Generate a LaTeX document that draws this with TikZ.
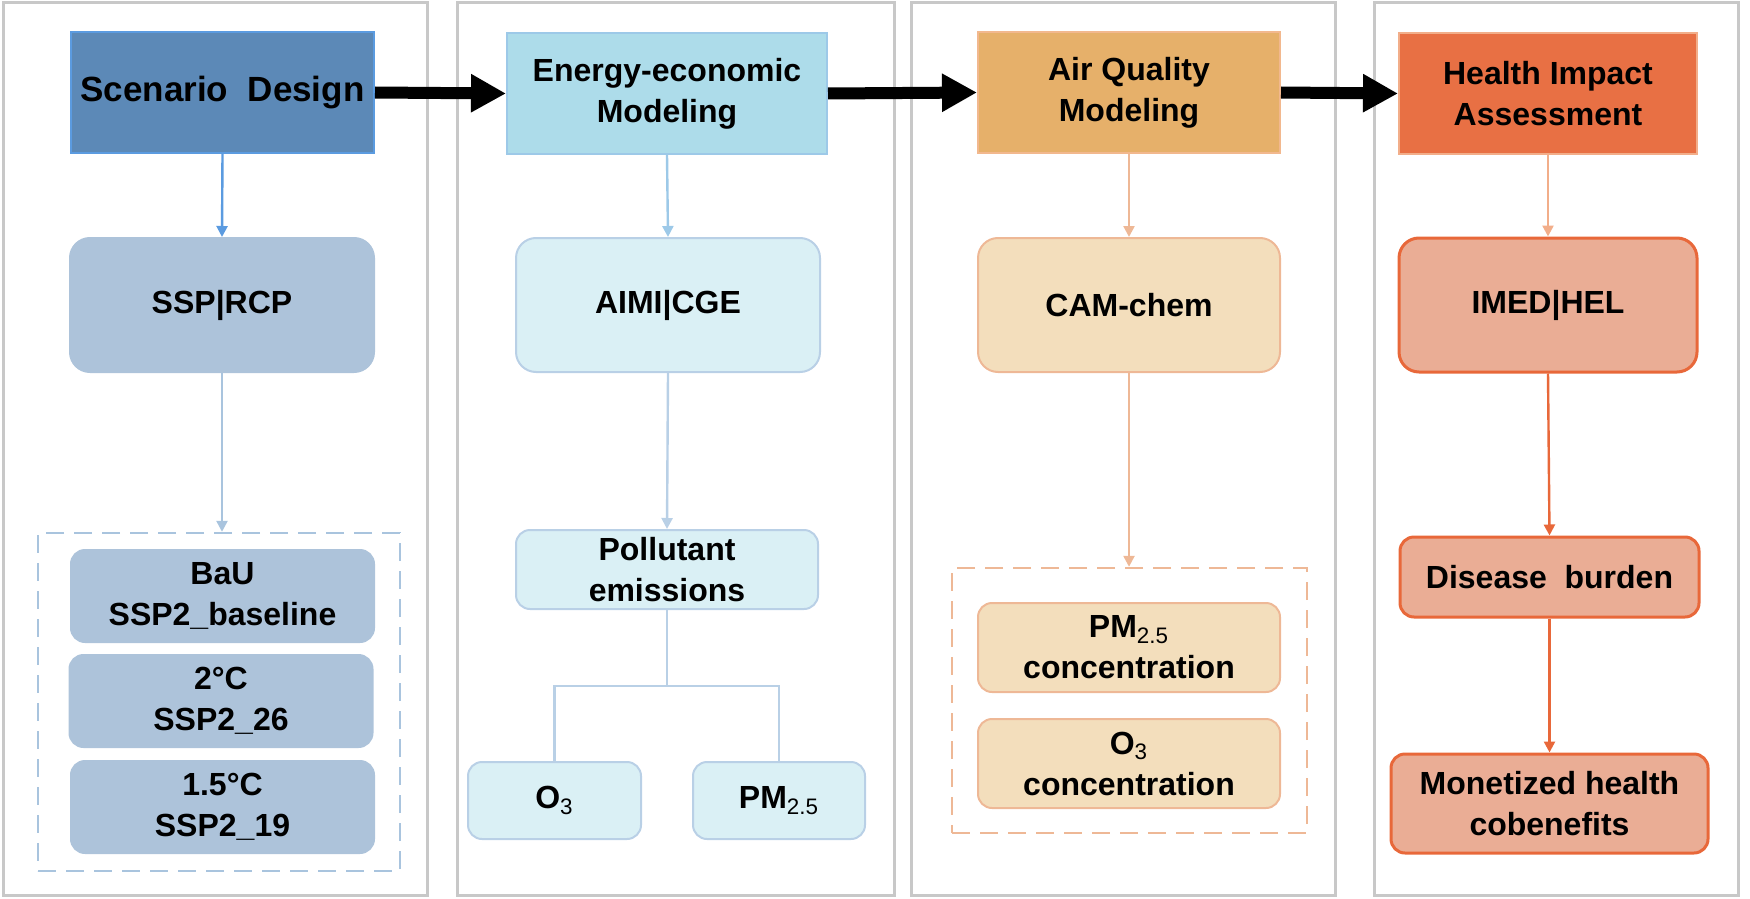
\documentclass[tikz,border=0pt]{standalone}
\usepackage{fontspec}
\setmainfont{Liberation Sans}
\usetikzlibrary{arrows.meta}
\definecolor{panelgray}{HTML}{C8C8C8}
\definecolor{sdfill}{HTML}{5C89B7}
\definecolor{sdline}{HTML}{5B9BE0}
\definecolor{sspfill}{HTML}{ADC3DA}
\definecolor{sspline}{HTML}{A9C4DE}
\definecolor{eefill}{HTML}{ADDCEA}
\definecolor{eeline}{HTML}{9DC9E8}
\definecolor{aimfill}{HTML}{DAF0F5}
\definecolor{aimline}{HTML}{B9D0E6}
\definecolor{aqfill}{HTML}{E6B06A}
\definecolor{aqline}{HTML}{F2B88E}
\definecolor{camfill}{HTML}{F3DEBC}
\definecolor{camline}{HTML}{EEB896}
\definecolor{hifill}{HTML}{E87044}
\definecolor{hiline}{HTML}{F2AE8A}
\definecolor{imfill}{HTML}{EAAD95}
\definecolor{imline}{HTML}{E8683A}
\tikzset{
  panel/.style={draw=panelgray,line width=1.5pt},
  txt/.style={font=\bfseries\fontsize{16}{20.5}\selectfont,align=center,text=black,inner sep=0pt},
  topbox/.style={txt,draw,line width=1pt,minimum height=60.5pt},
  rbox/.style={txt,draw,line width=1pt,rounded corners=10pt},
  sbox/.style={txt,draw,line width=1pt,rounded corners=7pt},
  dashbox/.style={draw,line width=1.2pt,dash pattern=on 9pt off 5pt,inner sep=0pt},
  conn/.style={line width=1.2pt,-{Triangle[width=5.5pt,length=5.5pt]}},
  bigarrow/.style={line width=6pt,black,-{Triangle[width=18pt,length=17.5pt]}}
}
\newcommand{\subx}[1]{\textsubscript{\mdseries #1}}
\begin{document}
\begin{tikzpicture}[x=0.5pt,y=-0.5pt]
\useasboundingbox (0,0) rectangle (1750,899);
% panels
\draw[panel] (3,3) rectangle (427,895);
\draw[panel] (457,3) rectangle (894,895);
\draw[panel] (911,3) rectangle (1335,895);
\draw[panel] (1374,3) rectangle (1738,895);

% top boxes
\node[topbox,fill=sdfill,draw=sdline,minimum width=151.5pt,font=\bfseries\fontsize{17.5}{21}\selectfont] (sd) at (222.5,92.5) {Scenario\ \ Design};
\node[topbox,fill=eefill,draw=eeline,minimum width=160pt] (ee) at (667,93.5) {Energy-economic\\Modeling};
\node[topbox,fill=aqfill,draw=aqline,minimum width=151pt] (aq) at (1129,92.5) {Air Quality\\Modeling};
\node[topbox,fill=hifill,draw=hiline,minimum width=149pt] (hi) at (1548,93.5) {Health Impact\\Assessment};

\draw[bigarrow] (sd.east) -- (ee.west);
\draw[bigarrow] (ee.east) -- (aq.west);
\draw[bigarrow] (aq.east) -- (hi.west);

% second row
\node[rbox,fill=sspfill,draw=sspfill,minimum width=152pt,minimum height=67pt] (ssp) at (222,305) {SSP|RCP};
\node[rbox,fill=aimfill,draw=aimline,minimum width=152pt,minimum height=67pt] (aim) at (668,305) {AIMI|CGE};
\node[rbox,fill=camfill,draw=camline,minimum width=151pt,minimum height=67pt] (cam) at (1129,305) {CAM-chem};
\node[rbox,fill=imfill,draw=imline,line width=1.5pt,minimum width=149pt,minimum height=67pt] (imed) at (1548,305) {IMED|HEL};

\draw[conn,draw=sdline] (sd.south) -- (ssp.north);
\draw[conn,draw=eeline] (ee.south) -- (aim.north);
\draw[conn,draw=camline] (aq.south) -- (cam.north);
\draw[conn,draw=hiline] (hi.south) -- (imed.north);

% panel 1 lower
\node[dashbox,draw=sspline,minimum width=181pt,minimum height=169pt] (d1) at (219,702) {};
\node[sbox,fill=sspfill,draw=sspfill,minimum width=151.5pt,minimum height=46pt] (bau) at (222.5,596) {BaU\\SSP2\_baseline};
\node[sbox,fill=sspfill,draw=sspfill,minimum width=151.5pt,minimum height=46pt] (two) at (221,701) {2°C\\SSP2\_26};
\node[sbox,fill=sspfill,draw=sspfill,minimum width=151.5pt,minimum height=46pt] (onefive) at (222.5,807) {1.5°C\\SSP2\_19};
\draw[conn,draw=sspline] (ssp.south) -- (ssp.south |- d1.north);

% panel 2 lower
\node[sbox,fill=aimfill,draw=aimline,minimum width=151pt,minimum height=39.5pt] (poll) at (667,569.5) {Pollutant\\emissions};
\node[sbox,fill=aimfill,draw=aimline,minimum width=86.5pt,minimum height=38.5pt] (othree) at (554.5,800.5) {O\subx{3}};
\node[sbox,fill=aimfill,draw=aimline,minimum width=86pt,minimum height=38.5pt] (pm) at (779,800.5) {PM\subx{2.5}};
\draw[conn,draw=aimline] (aim.south) -- (poll.north);
\coordinate (j) at (667,686);
\draw[draw=aimline,line width=1.2pt] (poll.south) -- (j);
\draw[draw=aimline,line width=1.2pt] (othree.north) |- (j) -| (pm.north);

% panel 3 lower
\node[dashbox,draw=camline,minimum width=177.5pt,minimum height=132.5pt] (d3) at (1129.5,700.5) {};
\node[sbox,fill=camfill,draw=camline,minimum width=151pt,minimum height=44.5pt] (pmc) at (1129,647.5) {PM\subx{2.5}\\concentration};
\node[sbox,fill=camfill,draw=camline,minimum width=151pt,minimum height=44.5pt] (o3c) at (1129,763.5) {O\subx{3}\\concentration};
\draw[conn,draw=camline] (cam.south) -- (cam.south |- d3.north);

% panel 4 lower
\node[sbox,fill=imfill,draw=imline,line width=1.5pt,minimum width=149.5pt,minimum height=40pt] (dis) at (1549.5,577) {Disease\ \ burden};
\node[sbox,fill=imfill,draw=imline,line width=1.5pt,minimum width=158.5pt,minimum height=49.5pt] (mon) at (1549.5,803.5) {Monetized health\\cobenefits};
\draw[conn,draw=imline] (imed.south) -- (dis.north);
\draw[conn,draw=imline] (dis.south) -- (mon.north);
\end{tikzpicture}
\end{document}
